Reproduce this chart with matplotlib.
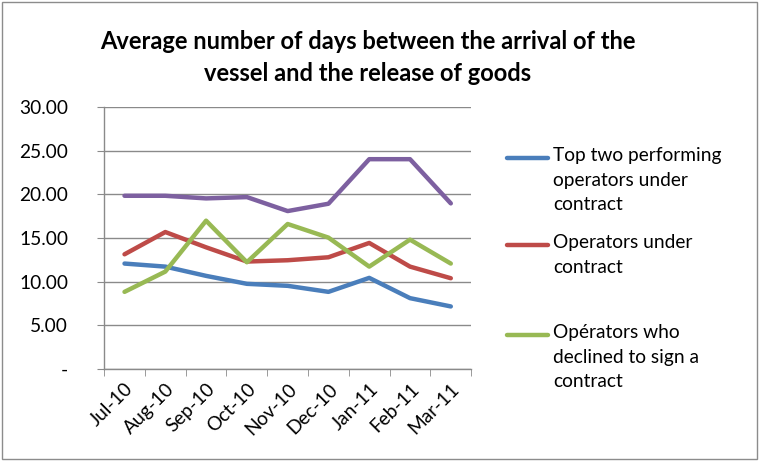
import matplotlib
matplotlib.use("Agg")
import matplotlib.pyplot as plt
from matplotlib.lines import Line2D
from matplotlib.patches import Rectangle
import numpy as np

months = ["Jul-10", "Aug-10", "Sep-10", "Oct-10", "Nov-10", "Dec-10", "Jan-11", "Feb-11", "Mar-11"]
top_two = [12.07, 11.72, 10.66, 9.75, 9.52, 8.83, 10.43, 8.11, 7.16]
under_contract = [13.13, 15.68, 13.93, 12.30, 12.45, 12.79, 14.43, 11.72, 10.39]
declined = [8.83, 11.15, 16.98, 12.22, 16.60, 15.04, 11.72, 14.81, 12.07]
fourth = [19.83, 19.83, 19.53, 19.68, 18.08, 18.92, 24.02, 24.02, 18.96]
yticks = [0, 5, 10, 15, 20, 25, 30]
ytick_labels = ["-", "5.00", "10.00", "15.00", "20.00", "25.00", "30.00"]

legend_labels = ["Top two performing\noperators under\ncontract",
                 "Operators under\ncontract",
                 "Opérators who\ndeclined to sign a\ncontract"]
colors = ["#4A7EBB", "#BE4B48", "#98B954", "#7D60A0"]

plt.rcParams['font.family'] = ['Lato', 'DejaVu Sans']

fig = plt.figure(figsize=(7.6, 4.61), dpi=100)
fig.patches.append(Rectangle((0.002, 0.004), 0.994, 0.992, transform=fig.transFigure,
                             fill=False, edgecolor="#8c8c8c", linewidth=1))
ax = fig.add_axes([0.137, 0.1996, 0.483, 0.5684])

x = np.arange(len(months))
series = [top_two, under_contract, declined, fourth]
for s, c in zip(series, colors):
    ax.plot(x, s, color=c, linewidth=3.2, solid_capstyle="round", solid_joinstyle="round", zorder=3)

ax.set_xlim(-0.5, len(months) - 0.5)
ax.set_ylim(0, 30)
ax.set_yticks(yticks)
ax.set_yticklabels(ytick_labels, fontsize=13.8)
ax.yaxis.grid(True, color="#8a8a8a", linewidth=1)
ax.set_axisbelow(True)

ax.set_xticks(x)
ax.set_xticklabels(months, rotation=45, ha="right", rotation_mode="anchor", fontsize=13.8)
ax.set_xticks(np.arange(len(months) + 1) - 0.5, minor=True)
ax.tick_params(axis="x", which="major", length=0, pad=8)
ax.tick_params(axis="x", which="minor", length=5, color="#8a8a8a", direction="out")
ax.tick_params(axis="y", length=5, color="#8a8a8a", direction="out", pad=21)

for side in ["top", "right"]:
    ax.spines[side].set_visible(False)
for side in ["left", "bottom"]:
    ax.spines[side].set_color("#8a8a8a")
    ax.spines[side].set_linewidth(1)

fig.text(0.484, 0.875, "Average number of days between the arrival of the\nvessel and the release of goods",
         ha="center", va="center", fontsize=17, fontweight="bold", linespacing=1.45)

# legend
leg_y = [158, 245, 335]
for lab, c, yy in zip(legend_labels, colors[:3], leg_y):
    yf = 1 - yy / 461
    fig.add_artist(Line2D([507 / 760, 548 / 760], [yf, yf], transform=fig.transFigure,
                          color=c, linewidth=3.2, solid_capstyle="round"))
    fig.text(553 / 760, yf + 11 / 461, lab, ha="left", va="top", fontsize=13.8, linespacing=1.55)

fig.savefig("out.png", dpi=100)
